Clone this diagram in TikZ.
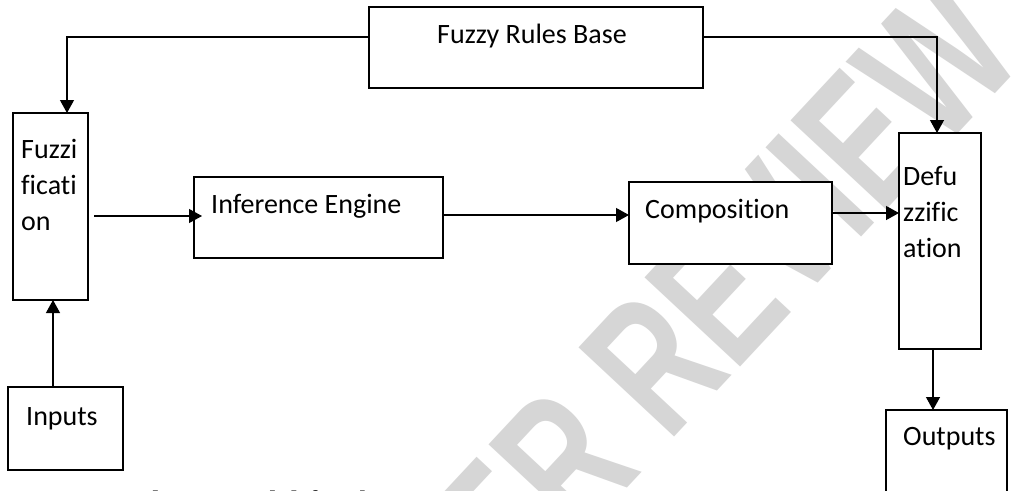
\documentclass[tikz,border=0pt]{standalone}
\usepackage{fontspec}
\setmainfont{Carlito}[Ligatures={NoCommon,NoContextual}]
\newfontfamily\capfont{Liberation Serif}
\newfontfamily\wmfont{Liberation Sans}
\usetikzlibrary{arrows.meta,fit}
\begin{document}
\begin{tikzpicture}[x=1pt,y=-1pt,
  box/.style={draw, line width=1.2pt, fill=white, inner sep=0pt, outer sep=0pt},
  lbl/.style={anchor=base west, inner sep=0pt, font=\fontsize{28}{36}\selectfont},
  conn/.style={line width=1.2pt, -{Triangle[length=13pt,width=14pt]}},
  wmark/.style={rotate=47, xscale=0.7, text=black!16, inner sep=0pt, font=\wmfont\bfseries\fontsize{190}{190}\selectfont},
  captxt/.style={anchor=base west, inner sep=0pt, font=\capfont\fontsize{31}{31}\selectfont}
]
\useasboundingbox (0,0) rectangle (1011,490);
\clip (0,0) rectangle (1011,490);
\fill[white] (0,0) rectangle (1011,490);

% watermark
\node[wmark] (wm) at (664,353) {PEER REVIEW};

% boxes
\node[box, fit={(369,7) (703,88)}] (frb) {};
\node[box, fit={(13,113) (88,300)}] (fuz) {};
\node[box, fit={(194,177) (443,258)}] (inf) {};
\node[box, fit={(629,182) (832,264)}] (comp) {};
\node[box, fit={(899,133) (981,349)}] (defuz) {};
\node[box, fit={(8,387) (123,470)}] (inp) {};
\node[box, fit={(886,410) (1007,510)}] (outp) {};

% texts
\node[lbl] (frbt) at (437,43) {Fuzzy Rules Base};
\node[lbl] (fuzt1) at (21,158) {Fuzzi};
\node[lbl] (fuzt2) at (21,194) {ficati};
\node[lbl] (fuzt3) at (21,230) {on};
\node[lbl] (inft) at (211,213) {Inference Engine};
\node[lbl] (compt) at (645,218) {Composition};
\node[lbl] (deft1) at (903,185) {Defu};
\node[lbl] (deft2) at (903,221) {zzific};
\node[lbl] (deft3) at (903,257) {ation};
\node[lbl] (inpt) at (26,425) {Inputs};
\node[lbl] (outt) at (903,445) {Outputs};

% caption (cut off at bottom)
\node[captxt] (cap) at (35,512) {2. Fuzzy logic model for the system};

% connectors
\draw[conn] ([yshift=-30pt]frb.north west) -| ([xshift=16.5pt]fuz.north);
\draw[conn] ([yshift=-30pt]frb.north east) -| ([xshift=-3pt]defuz.north);
\draw[conn] ([xshift=6pt,yshift=1.5pt]fuz.east |- inf.west) -- ([xshift=8pt,yshift=1.5pt]inf.west);
\draw[conn] ([yshift=2.5pt]inf.east) -- ([yshift=2.5pt]inf.east -| comp.west);
\draw[conn] ([yshift=10pt]comp.east) -- ([yshift=10pt]comp.east -| defuz.west);
\draw[conn] ([xshift=-7pt]defuz.south) -- ([xshift=-7pt]defuz.south |- outp.north);
\draw[conn] ([xshift=-12.5pt]inp.north) -- ([xshift=-12.5pt]inp.north |- fuz.south);
\end{tikzpicture}
\end{document}
